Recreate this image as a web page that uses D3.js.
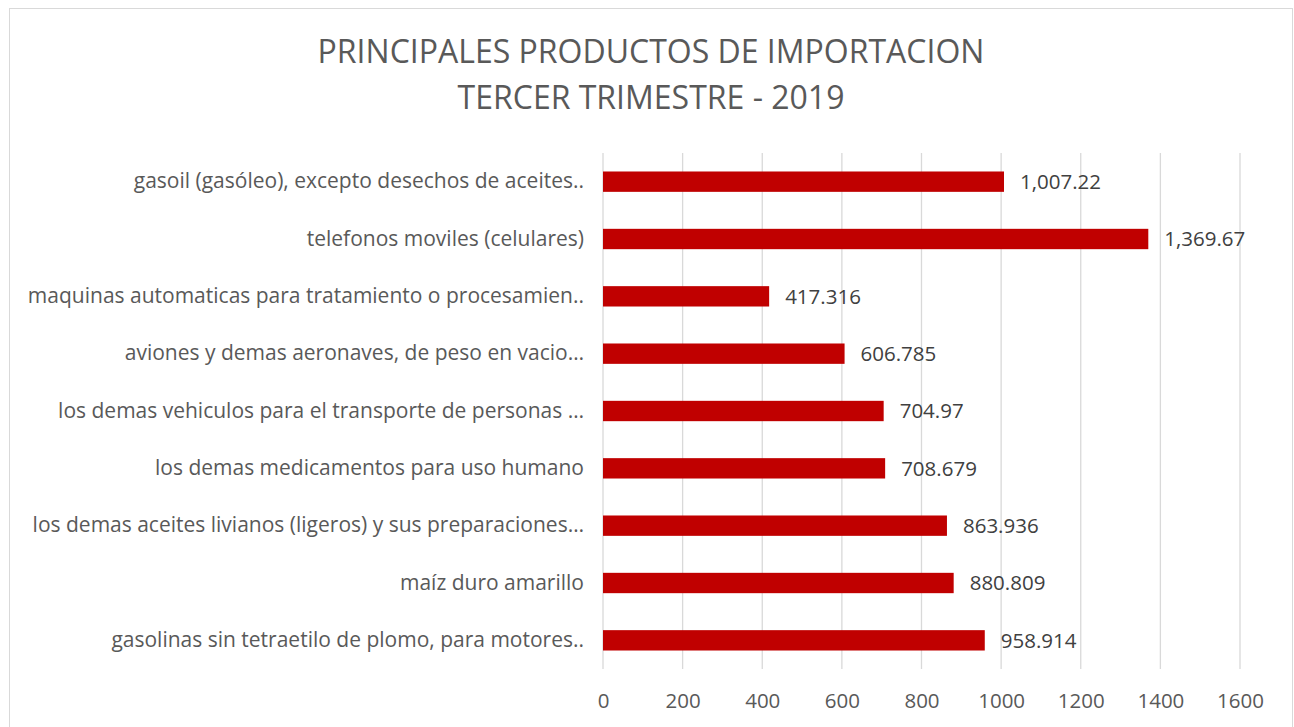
<!DOCTYPE html>
<html lang="es">
<head>
    <meta charset="UTF-8">
    <title>Principales productos de importacion</title>
    <script src="https://d3js.org/d3.v7.min.js"></script>
    <style>
        body { margin: 0; background: #fff; }
        text { font-family: "Open Sans", sans-serif; }
    </style>
</head>
<body>
    <div id="chart"></div>
    <script>
        // datos
        const products = [
            "gasoil (gasóleo), excepto desechos de aceites..",
            "telefonos moviles (celulares)",
            "maquinas automaticas para tratamiento o procesamien..",
            "aviones y demas aeronaves, de peso en vacio…",
            "los demas vehiculos para el transporte de personas …",
            "los demas medicamentos para uso humano",
            "los demas aceites livianos (ligeros) y sus preparaciones…",
            "maíz duro amarillo",
            "gasolinas sin tetraetilo de plomo, para motores.."
        ];
        const values = [1007.22, 1369.67, 417.316, 606.785, 704.97, 708.679, 863.936, 880.809, 958.914];
        const valueLabels = ["1,007.22", "1,369.67", "417.316", "606.785", "704.97", "708.679", "863.936", "880.809", "958.914"];
        const xTicks = [0, 200, 400, 600, 800, 1000, 1200, 1400, 1600];
        const titleLines = ["PRINCIPALES PRODUCTOS DE IMPORTACION", "TERCER TRIMESTRE - 2019"];

        const width = 1294;
        const height = 727;
        const margin = { top: 153, right: 54, bottom: 58, left: 603 };
        const fontSize = "20.5px";

        const svg = d3.select("#chart")
            .append("svg")
            .attr("width", width)
            .attr("height", height);

        // marco del area del grafico
        svg.append("rect")
            .attr("x", 9.5)
            .attr("y", 8.5)
            .attr("width", 1283)
            .attr("height", 740)
            .attr("fill", "#fff")
            .attr("stroke", "#d9d9d9");

        const x = d3.scaleLinear()
            .domain([0, 1600])
            .range([margin.left, width - margin.right]);

        const y = d3.scaleBand()
            .domain(products)
            .range([margin.top, height - margin.bottom])
            .paddingInner(0.645)
            .paddingOuter(0.3225);

        // lineas de division
        svg.append("g")
            .selectAll("line")
            .data(xTicks)
            .join("line")
            .attr("x1", d => x(d))
            .attr("x2", d => x(d))
            .attr("y1", margin.top)
            .attr("y2", height - margin.bottom)
            .attr("stroke", "#d9d9d9")
            .attr("stroke-width", 1.3);

        const xAxis = svg.append("g")
            .attr("transform", `translate(0,${height - margin.bottom})`)
            .call(d3.axisBottom(x).tickValues(xTicks).tickSize(0).tickPadding(24).tickFormat(d3.format("d")));
        xAxis.select(".domain").remove();
        xAxis.selectAll("text")
            .attr("font-family", "Open Sans, sans-serif")
            .attr("font-size", fontSize)
            .attr("fill", "#595959");

        const yAxis = svg.append("g")
            .attr("transform", `translate(${margin.left},0)`)
            .call(d3.axisLeft(y).tickSize(0).tickPadding(19));
        yAxis.select(".domain").remove();
        yAxis.selectAll("text")
            .attr("font-family", "Open Sans, sans-serif")
            .attr("font-size", "21px")
            .attr("fill", "#595959");

        // barras
        svg.append("g")
            .selectAll("rect")
            .data(values)
            .join("rect")
            .attr("x", x(0))
            .attr("y", (d, i) => y(products[i]))
            .attr("width", d => x(d) - x(0))
            .attr("height", y.bandwidth())
            .attr("fill", "#c00000");

        // etiquetas de datos
        svg.append("g")
            .selectAll("text")
            .data(values)
            .join("text")
            .attr("x", d => x(d) + 16)
            .attr("y", (d, i) => y(products[i]) + y.bandwidth() / 2)
            .attr("dy", "0.35em")
            .attr("font-size", fontSize)
            .attr("fill", "#404040")
            .text((d, i) => valueLabels[i]);

        // titulo
        svg.append("g")
            .selectAll("text")
            .data(titleLines)
            .join("text")
            .attr("x", 651)
            .attr("y", (d, i) => 63 + i * 46)
            .attr("text-anchor", "middle")
            .attr("font-size", "32px")
            .attr("fill", "#595959")
            .text(d => d);
    </script>
</body>
</html>
